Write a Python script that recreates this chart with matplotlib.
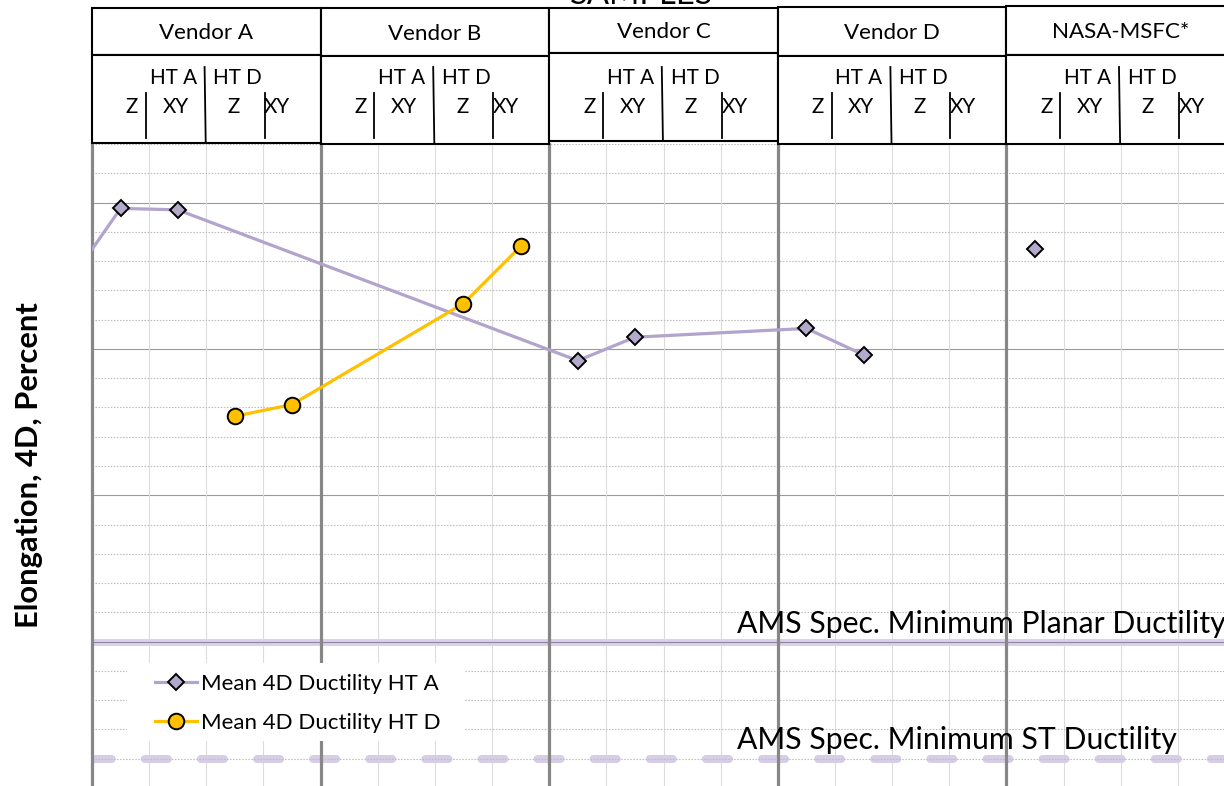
import numpy as np
import matplotlib
matplotlib.use("Agg")
import matplotlib.pyplot as plt
from matplotlib import transforms as mtransforms
from matplotlib.textpath import TextPath
from matplotlib.font_manager import FontProperties
from matplotlib.patches import Rectangle
from matplotlib.lines import Line2D

# ---------------------------------------------------------------- data
vendors = ["Vendor A", "Vendor B", "Vendor C", "Vendor D", "NASA-MSFC*"]
heat_treats = ["HT A", "HT D"]
orientations = ["Z", "XY"]

nan = np.nan
# one value per (vendor, heat treat, orientation) column, Vendor A..D
ht_a_mean = [24.8, 24.75, nan, nan,
             nan, nan, nan, nan,
             19.6, 20.4, nan, nan,
             20.7, 19.8, nan, nan]
ht_d_mean = [nan, nan, 17.7, 18.1,
             nan, nan, 21.55, 23.5,
             nan, nan, nan, nan,
             nan, nan, nan, nan]
nasa_ht_a = [23.4, nan, nan, nan]
ht_a_lead_in = 22.0          # preceding HT A mean, just left of the plotted range

planar_min = 10              # AMS spec. minimum planar ductility, %
st_min = 6                   # AMS spec. minimum ST ductility, %
y_min, y_max = 5, 27
y_major, y_minor = 5, 1

series_labels = ["Mean 4D Ductility HT A", "Mean 4D Ductility HT D"]
planar_text = "AMS Spec. Minimum Planar Ductility"
st_text = "AMS Spec. Minimum ST Ductility"
y_label = "Elongation, 4D, Percent"
top_title = "SAMPLES"

# ---------------------------------------------------------------- figure
W, H = 1224, 786
plt.rcParams["lines.scale_dashes"] = False
FONT = "Lato"

fig = plt.figure(figsize=(W / 100, H / 100), dpi=100)
fig.patch.set_facecolor("white")

# pixel (from top-left) -> figure transform
pxT = mtransforms.Affine2D().scale(1 / W, -1 / H).translate(0, 1) + fig.transFigure


def fit_size(text, target_px, **kw):
    fp = FontProperties(family=FONT, **kw)
    w = TextPath((0, 0), text, size=100, prop=fp).get_extents().width
    return target_px * 72.0 / w


n_cols = 4 * len(vendors)
ax = fig.add_axes([92 / W, 1 - 788 / H, 1143 / W, 644 / H])
ax.set_xlim(0, n_cols)
ax.set_ylim(y_min, y_max)
ax.set_axis_off()

# grid: minor dotted, major solid
for y in np.arange(y_min + y_minor, y_max + 0.01, y_minor):
    if y % y_major:
        ax.axhline(y, color="#bdbdbd", lw=0.8, ls=(0, (1.1, 1.1)), zorder=2.5)
for y in np.arange(y_min + y_major, y_max, y_major):
    ax.axhline(y, color="#9a9a9a", lw=0.8, zorder=1)
for x in range(1, n_cols):
    if x % 4:
        ax.axvline(x, color="#dcdcdc", lw=0.8, zorder=1)

# specification limits
ax.axhline(planar_min, color="#d9d1e8", lw=5.0, zorder=2)
ax.axhline(planar_min, color="#8f86a3", lw=0.8, zorder=2.2)
ax.plot([0, n_cols], [st_min, st_min], color="#d6cee6", lw=5.8,
        ls=(2.4, (16.6, 23.8)), dash_capstyle="round", zorder=2)

# vendor separators
for x in range(0, n_cols + 1, 4):
    ax.axvline(x, color="#878787", lw=2.3, zorder=3, clip_on=False)

# data series
xpos = np.arange(16) + 0.5
a = np.array(ht_a_mean)
d = np.array(ht_d_mean)
ma, md = ~np.isnan(a), ~np.isnan(d)
a_style = dict(color="#b2a4cc", lw=2.3, marker="D", ms=8.2,
               mfc="#b3a9cb", mec="black", mew=1.4)
d_style = dict(color="#ffc000", lw=2.3, marker="o", ms=11.2,
               mfc="#ffc000", mec="black", mew=1.4)
ax.plot(np.r_[-0.5, xpos[ma]], np.r_[ht_a_lead_in, a[ma]], zorder=6, **a_style)
ax.plot(xpos[md], d[md], zorder=6, **d_style)
n = np.array(nasa_ht_a)
nx = 16 + np.arange(4) + 0.5
ax.plot(nx[~np.isnan(n)], n[~np.isnan(n)], ls="none", zorder=6,
        **{k: v for k, v in a_style.items() if k not in ("color", "lw")})

# spec limit captions
cap_fs = fit_size(st_text, 438)
fig.text(737 / W, 1 - 632.7 / H, planar_text, fontsize=cap_fs, family=FONT,
         ha="left", va="baseline")
fig.text(737 / W, 1 - 748.5 / H, st_text, fontsize=cap_fs, family=FONT,
         ha="left", va="baseline")

# axis title
fig.text(38.5 / W, 1 - 465 / H, y_label, rotation=90, rotation_mode="anchor",
         ha="center", va="baseline", family=FONT, weight="bold",
         fontsize=fit_size(y_label, 323, weight="bold"))

# legend on a white panel
fig.add_artist(Rectangle((127, 663), 338, 78, transform=pxT, facecolor="white",
                         edgecolor="none", zorder=4))
leg_fs = fit_size(series_labels[0], 235)
leg_px = leg_fs * 100 / 72
handles = [Line2D([], [], **a_style), Line2D([], [], **d_style)]
leg = fig.legend(handles, series_labels, loc="upper left",
                 bbox_to_anchor=(155 / W, 1 - 674 / H), bbox_transform=fig.transFigure,
                 frameon=False, borderpad=0, borderaxespad=0,
                 prop=FontProperties(family=FONT, size=leg_fs),
                 handlelength=42 / leg_px, handletextpad=4 / leg_px,
                 labelspacing=0.55 + 6.7 / leg_px)
leg.set_zorder(5)

# header table above the columns
blend = mtransforms.blended_transform_factory(ax.transData, pxT)
top_y = [8, 8, 8, 7, 6]
mid_y = [55, 56, 53, 56, 55]
bot_y = [143, 144, 141, 144, 144]
v_fs = fit_size("Vendor C", 93)
s_fs = v_fs * 0.92
for k, name in enumerate(vendors):
    x0 = 4 * k
    for (ya, yb) in ((top_y[k], mid_y[k]), (mid_y[k], bot_y[k])):
        fig.add_artist(Rectangle((x0, ya), 4, yb - ya, transform=blend,
                                 facecolor="white", edgecolor="black", lw=1.5, zorder=8))
    fig.add_artist(Line2D([x0 + 1.97, x0 + 1.99], [67, bot_y[k]], transform=blend,
                          color="black", lw=1.3, zorder=9))
    for xs in (0.94, 3.02):
        fig.add_artist(Line2D([x0 + xs, x0 + xs], [93, 138], transform=blend,
                              color="black", lw=1.3, zorder=9))
    fig.text(x0 + 2.0, (top_y[k] + mid_y[k]) / 2 + 1.5, name, transform=blend,
             ha="center", va="center", family=FONT, fontsize=v_fs, zorder=10)
    for ht, xc in zip(heat_treats, (1.42, 2.55)):
        fig.text(x0 + xc, 78, ht, transform=blend, ha="center", va="center",
                 family=FONT, fontsize=s_fs, zorder=10)
    for o, xc in zip(orientations * 2, (0.70, 1.46, 2.48, 3.24)):
        fig.text(x0 + xc, 107, o, transform=blend, ha="center", va="center",
                 family=FONT, fontsize=s_fs, zorder=10)

fig.text(642 / W, 1 - 3.5 / H, top_title, ha="center", va="baseline",
         family=FONT, fontsize=fit_size(top_title, 141), zorder=10)

fig.savefig("out.png", dpi=100, facecolor="white")
